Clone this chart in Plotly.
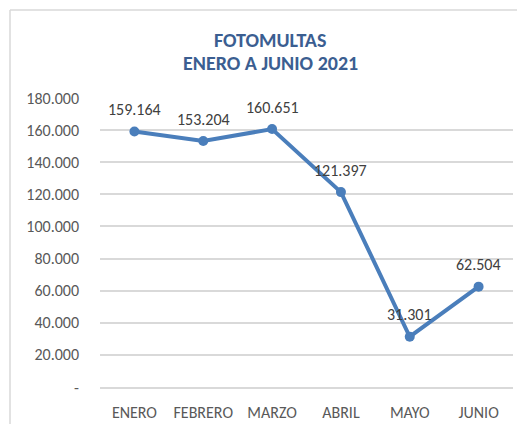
import plotly.graph_objects as go

months = ["ENERO", "FEBRERO", "MARZO", "ABRIL", "MAYO", "JUNIO"]
values = [159164, 153204, 160651, 121397, 31301, 62504]
ytick_vals = [0, 20000, 40000, 60000, 80000, 100000, 120000, 140000, 160000, 180000]
ytick_text = ["-", "20.000", "40.000", "60.000", "80.000", "100.000", "120.000", "140.000", "160.000", "180.000"]
title_lines = ["FOTOMULTAS", "ENERO A JUNIO 2021"]

def fmt(v):
    return f"{v:,}".replace(",", ".")

OFF = 8  # default page body margin
W, H = 525, 424
L, R, T, B = 100 - OFF, 20, 98 - OFF, 424 - (387 - OFF)
pw, ph = W - L - R, H - T - B
FONT = "Carlito, Lato, sans-serif"

fig = go.Figure()
fig.add_trace(go.Scatter(
    x=months, y=values, mode="lines+markers",
    line=dict(color="#4A7EBB", width=4),
    marker=dict(color="#4A7EBB", size=10),
    cliponaxis=False,
    hoverinfo="skip",
))

for m, v in zip(months, values):
    fig.add_annotation(x=m, y=v, text=fmt(v), showarrow=False, yshift=22,
                       font=dict(family=FONT, size=16, color="#404040"))

# title lines
for i, t in enumerate(title_lines):
    fig.add_annotation(xref="paper", yref="paper", x=(270 - OFF - L) / pw,
                       y=1 + (T - (40 + 23 * i - OFF)) / ph, yanchor="middle",
                       text=f"<b>{t}</b>", showarrow=False,
                       font=dict(family=FONT, size=20, color="#3B5E91"))

bx = (10 - OFF - L) / pw
by = 1 + (T - (10 - OFF)) / ph
fig.add_shape(type="line", xref="paper", yref="paper", x0=bx, y0=-1, x1=bx, y1=by,
              line=dict(color="#D9D9D9", width=1.5))
fig.add_shape(type="line", xref="paper", yref="paper", x0=bx, y0=by, x1=2, y1=by,
              line=dict(color="#D9D9D9", width=1.5))

fig.update_layout(
    template="none",
    width=W, height=H,
    margin=dict(l=L, r=R, t=T, b=B),
    paper_bgcolor="white", plot_bgcolor="white",
    showlegend=False,
    font=dict(family=FONT, color="#595959"),
    xaxis=dict(range=[-0.5, 5.5], showgrid=False, showline=True, linecolor="#D9D9D9",
               linewidth=1.5, zeroline=False, automargin=False,
               ticks="", tickfont=dict(family=FONT, size=16, color="#595959"),
               ticklabelstandoff=10, fixedrange=True),
    yaxis=dict(range=[0, 180000], tickvals=ytick_vals, ticktext=ytick_text,
               showgrid=True, gridcolor="#D9D9D9", gridwidth=1.5, automargin=False,
               zeroline=False, showline=False, ticks="",
               tickfont=dict(family=FONT, size=16, color="#595959"),
               ticklabelstandoff=20, fixedrange=True),
)

fig.write_html("out.html")
